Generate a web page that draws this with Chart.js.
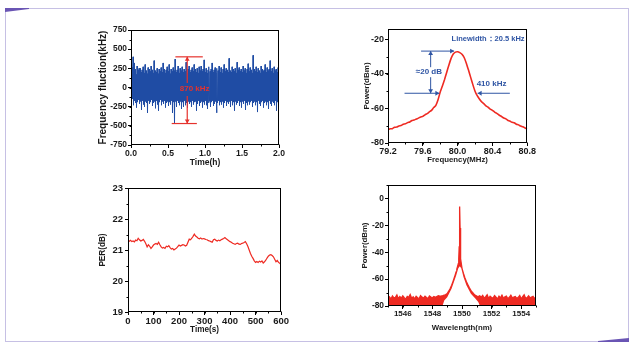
<!DOCTYPE html>
<html>
<head>
<meta charset="utf-8">
<script src="https://cdn.jsdelivr.net/npm/chart.js@4.4.0/dist/chart.umd.min.js"></script>
<style>
  html, body { margin: 0; padding: 0; background: #fff; }
  #page { position: relative; width: 634px; height: 346px; overflow: hidden; background: #fff; }
  #frame { position: absolute; left: 5px; top: 8px; width: 622px; height: 332px; border: 1px solid #c6c0e4; }
  .accent { position: absolute; background: #6a55b4; }
  #accent-tl { left: 5px; top: 8px; width: 24px; height: 4px; clip-path: polygon(0 0, 100% 0, 100% 25%, 0 100%); }
  #accent-br { left: 598px; top: 338px; width: 31px; height: 4px; clip-path: polygon(100% 0, 100% 100%, 0 100%, 0 75%); }
  canvas { position: absolute; }
</style>
</head>
<body>
<div id="page">
  <div id="frame"></div>
  <div class="accent" id="accent-tl"></div>
  <div class="accent" id="accent-br"></div>
  <canvas id="freqNoise"></canvas>
  <canvas id="linewidth"></canvas>
  <canvas id="per"></canvas>
  <canvas id="spectrum"></canvas>
</div>
<script>
const FONT = "'Liberation Sans', Arial, sans-serif";
const TEXT_COLOR = '#1a1a1a';
const RED = '#ee2a22';
const BLUE = '#1f4ca4';
const NOTE_RED = '#e5322d';
const NOTE_BLUE = '#2f55a4';

// frequency fluctuation over 2 h (kHz)
const TL_TIME_END = 2;
const TL_X_TICKS = [0, 0.5, 1, 1.5, 2];
const TL_Y_TICKS = [-750, -500, -250, 0, 250, 500, 750];
const TL_FREQ = [
  210,-180,260,-150,400,-230,320,-170,240,-200,170,-260,280,-190,230,-160,250,-210,250,-180,
  200,-290,230,-170,270,-220,190,-250,300,-180,220,-200,180,-330,260,-170,240,-210,210,-190,
  280,-160,230,-240,190,-200,350,-180,220,-270,200,-170,250,-220,180,-300,240,-190,210,-160,
  260,-230,200,-180,320,-210,240,-170,190,-260,230,-200,270,-180,210,-240,300,-190,180,-220,
  240,-170,210,-330,260,-190,220,-470,370,-180,200,-250,230,-170,280,-200,190,-230,250,-180,
  220,-280,270,-190,200,-250,240,-170,210,-230,330,-200,190,-260,240,-180,280,-210,200,-190,
  230,-250,260,-170,210,-220,300,-190,240,-180,200,-300,250,-210,190,-170,270,-240,220,-200,
  280,-180,210,-260,240,-190,360,-220,200,-170,250,-230,190,-280,230,-200,270,-180,210,-250,
  240,-190,320,-170,200,-240,230,-210,260,-180,190,-330,250,-200,220,-170,280,-230,200,-190,
  260,-220,190,-180,240,-260,300,-200,210,-170,250,-240,230,-190,200,-210,380,-180,220,-250,
  200,-170,270,-230,240,-190,210,-300,250,-180,190,-220,330,-200,230,-170,260,-240,210,-190,
  240,-260,200,-180,280,-210,220,-170,250,-290,190,-200,240,-230,310,-180,210,-220,260,-190,
  230,-170,190,-250,420,-200,240,-180,210,-230,270,-190,200,-320,250,-170,220,-210,190,-240,
  280,-190,240,-170,210,-260,230,-200,300,-180,200,-230,260,-190,220,-280,240,-170,350,-210,
  210,-240,250,-180,190,-200,270,-230,220,-170,240,-300,200,-190,260,-210,230
];

// beat-note spectrum (dBm) around 80 MHz
const TR_FREQ_START = 79.2;
const TR_FREQ_STEP = 0.025;
const TR_X_TICKS = [79.2, 79.6, 80.0, 80.4, 80.8];
const TR_Y_TICKS = [-80, -60, -40, -20];
const TR_POWER = [
  -72.3, -71.8, -71.7, -70.9, -70.8, -70.1, -69.9, -69.1, -68.9, -68.2,
  -67.8, -67.0, -66.7, -66.1, -65.6, -64.9, -64.6, -63.7, -63.0, -62.0,
  -61.1, -59.5, -58.2, -55.0, -50.5, -47.0, -43.2, -39.0, -34.8, -31.0,
  -28.5, -27.4, -27.2, -27.7, -28.6, -30.5, -33.8, -37.8, -42.0, -46.2,
  -50.0, -52.6, -54.5, -56.1, -57.2, -58.5, -59.3, -60.4, -61.1, -62.1,
  -62.8, -63.8, -64.5, -65.4, -65.9, -66.8, -67.3, -68.0, -68.3, -69.1,
  -69.5, -70.2, -70.6, -71.3, -71.8
];

// polarization extinction ratio over 600 s (dB)
const BL_TIME_STEP = 5;
const BL_X_TICKS = [0, 100, 200, 300, 400, 500, 600];
const BL_Y_TICKS = [19, 20, 21, 22, 23];
const BL_PER = [
  21.30, 21.28, 21.31, 21.27, 21.29, 21.26, 21.32, 21.30, 21.38, 21.33,
  21.29, 21.31, 21.34, 21.28, 21.20, 21.10, 21.17, 21.12, 21.05, 21.10,
  21.16, 21.19, 21.21, 21.18, 21.25, 21.17, 21.10, 21.06, 21.08, 21.05,
  21.12, 21.10, 21.14, 21.08, 21.03, 21.05, 21.00, 21.03, 21.06, 21.11,
  21.16, 21.13, 21.15, 21.17, 21.16, 21.13, 21.15, 21.25, 21.35, 21.33,
  21.38, 21.44, 21.51, 21.45, 21.42, 21.38, 21.36, 21.39, 21.35, 21.37,
  21.36, 21.34, 21.33, 21.30, 21.29, 21.27, 21.25, 21.33, 21.35, 21.31,
  21.29, 21.32, 21.30, 21.33, 21.35, 21.37, 21.40, 21.36, 21.33, 21.30,
  21.27, 21.25, 21.22, 21.20, 21.18, 21.21, 21.22, 21.19, 21.18, 21.21,
  21.22, 21.24, 21.27, 21.20, 21.11, 21.00, 20.89, 20.80, 20.73, 20.65,
  20.60, 20.63, 20.60, 20.64, 20.61, 20.65, 20.58, 20.62, 20.67, 20.74,
  20.80, 20.84, 20.85, 20.82, 20.78, 20.70, 20.62, 20.66, 20.60, 20.57,
  20.53
];

// optical spectrum (dBm): noise floor on both sides, skirt and peak in the middle
const BR_X_TICKS = [1546, 1548, 1550, 1552, 1554];
const BR_Y_TICKS = [-80, -60, -40, -20, 0];
const BR_FLOOR_STEP = 0.1;
const BR_FLOOR_LEFT_START = 1545.0;
const BR_FLOOR_LEFT = [
  -74.5, -73.2, -74.8, -72.6, -74.0, -73.5, -71.8, -74.6, -73.0, -74.2,
  -72.4, -73.8, -74.9, -72.9, -73.6, -71.5, -74.3, -73.1, -74.7, -72.8,
  -73.9, -74.4, -72.2, -73.4, -74.1, -72.7, -73.7, -74.5, -72.5, -73.3,
  -73.9, -72.9, -73.6, -73.0, -72.4, -72.6
];
const BR_PEAK_WL = [
  1548.6, 1548.7, 1548.8, 1548.9, 1549.0, 1549.1, 1549.2, 1549.3, 1549.4, 1549.5,
  1549.6, 1549.65, 1549.7, 1549.75, 1549.78, 1549.81, 1549.83, 1549.85, 1549.87, 1549.89,
  1549.92, 1549.96, 1550.0, 1550.1, 1550.2, 1550.3, 1550.4, 1550.5, 1550.6, 1550.7,
  1550.8, 1550.9, 1551.0, 1551.1, 1551.2
];
const BR_PEAK_POWER = [
  -72.5, -72.3, -72.0, -71.5, -70.8, -69.0, -67.0, -64.6, -61.5, -58.3,
  -54.7, -52.5, -50.5, -48.5, -45.0, -36.0, -22.0, -6.0, -22.0, -36.0,
  -45.0, -49.0, -52.0, -55.8, -59.2, -62.0, -64.3, -66.4, -68.3, -69.8,
  -71.0, -72.0, -72.6, -73.0, -72.4
];
const BR_FLOOR_RIGHT_START = 1551.3;
const BR_FLOOR_RIGHT = [
  -73.5, -72.1, -74.2, -73.0, -71.6, -74.5, -72.8, -73.7, -74.1, -72.3,
  -73.4, -74.8, -72.6, -73.9, -71.9, -74.3, -73.2, -72.7, -74.6, -73.5,
  -72.0, -74.0, -73.3, -72.9, -74.4, -73.6, -72.2, -74.7, -73.1, -71.7,
  -74.2, -73.8, -72.5, -74.0, -73.4, -72.8, -74.5, -73.2
];
// lower edge of the trace under the skirt (white area)
const BR_GAP_WL = [1548.65, 1548.8, 1549.0, 1549.3, 1549.6, 1549.75, 1549.85, 1549.95, 1550.1, 1550.3, 1550.6, 1550.9, 1551.1, 1551.25];
const BR_GAP_POWER = [-81, -76, -73.5, -67, -57.5, -52, -50.5, -52, -58.5, -64.5, -70.8, -74.5, -77, -81];

const frameBox = {
  id: 'frameBox',
  afterDraw(chart, args, opts) {
    const { ctx, chartArea: a, scales: { x, y } } = chart;
    const l = Math.round(a.left) + 0.5, r = Math.round(a.right) - 0.5;
    const t = Math.round(a.top) + 0.5, b = Math.round(a.bottom) - 0.5;
    ctx.save();
    ctx.strokeStyle = '#000';
    ctx.lineWidth = 1;
    ctx.strokeRect(l, t, r - l, b - t);
    ctx.beginPath();
    for (let v = x.min; v <= x.max + 1e-9; v += opts.xMinor) {
      const px = Math.round(x.getPixelForValue(v)) + 0.5;
      ctx.moveTo(px, b); ctx.lineTo(px, b + 2);
    }
    for (let v = y.min; v <= y.max + 1e-9; v += opts.yMinor) {
      const py = Math.round(y.getPixelForValue(v)) + 0.5;
      ctx.moveTo(l, py); ctx.lineTo(l - 2, py);
    }
    ctx.stroke();
    ctx.restore();
  }
};
Chart.register(frameBox);

function arrowHead(ctx, x1, y1, x2, y2, size) {
  const ang = Math.atan2(y2 - y1, x2 - x1);
  ctx.beginPath();
  ctx.moveTo(x2, y2);
  ctx.lineTo(x2 - size * Math.cos(ang) + size * 0.6 * Math.sin(ang), y2 - size * Math.sin(ang) - size * 0.6 * Math.cos(ang));
  ctx.lineTo(x2 - size * Math.cos(ang) - size * 0.6 * Math.sin(ang), y2 - size * Math.sin(ang) + size * 0.6 * Math.cos(ang));
  ctx.closePath();
  ctx.fill();
}

function line(ctx, x1, y1, x2, y2) {
  ctx.beginPath();
  ctx.moveTo(x1, y1);
  ctx.lineTo(x2, y2);
  ctx.stroke();
}

function arrow(ctx, x1, y1, x2, y2) {
  line(ctx, x1, y1, x2, y2);
  arrowHead(ctx, x1, y1, x2, y2, 4);
}

function label(ctx, text, px, py, size, color, bg) {
  ctx.font = 'bold ' + size + 'px ' + FONT;
  ctx.textAlign = 'center';
  ctx.textBaseline = 'middle';
  if (bg) {
    const w = ctx.measureText(text).width;
    ctx.fillStyle = bg;
    ctx.fillRect(px - w / 2 - 1, py - size / 2 - 1, w + 2, size + 2);
  }
  ctx.fillStyle = color;
  ctx.fillText(text, px, py);
}

function drawNoiseNotes(chart) {
  const { ctx, scales: { x, y } } = chart;
  ctx.save();
  ctx.strokeStyle = NOTE_RED;
  ctx.fillStyle = NOTE_RED;
  ctx.lineWidth = 1.2;
  line(ctx, x.getPixelForValue(0.60), y.getPixelForValue(400), x.getPixelForValue(0.97), y.getPixelForValue(400));
  line(ctx, x.getPixelForValue(0.55), y.getPixelForValue(-470), x.getPixelForValue(0.89), y.getPixelForValue(-470));
  const ax = x.getPixelForValue(0.76);
  arrow(ctx, ax, y.getPixelForValue(60), ax, y.getPixelForValue(400));
  arrow(ctx, ax, y.getPixelForValue(-110), ax, y.getPixelForValue(-470));
  label(ctx, '870 kHz', x.getPixelForValue(0.86), y.getPixelForValue(-20), 8, NOTE_RED);
  ctx.restore();
}

function drawLinewidthNotes(chart) {
  const { ctx, scales: { x, y } } = chart;
  const top = y.getPixelForValue(-26.8), low = y.getPixelForValue(-51.2);
  ctx.save();
  ctx.strokeStyle = NOTE_BLUE;
  ctx.fillStyle = NOTE_BLUE;
  ctx.lineWidth = 1;
  arrow(ctx, x.getPixelForValue(79.58), top, x.getPixelForValue(79.96), top);
  arrow(ctx, x.getPixelForValue(79.39), low, x.getPixelForValue(79.79), low);
  arrow(ctx, x.getPixelForValue(80.6), low, x.getPixelForValue(80.23), low);
  const vx = x.getPixelForValue(79.69);
  const mid = y.getPixelForValue(-39);
  arrow(ctx, vx, mid, vx, top);
  arrow(ctx, vx, mid, vx, low);
  label(ctx, '≈20 dB', x.getPixelForValue(79.67), mid, 8, NOTE_BLUE, '#fff');
  label(ctx, '410 kHz', x.getPixelForValue(80.39), y.getPixelForValue(-45.5), 8, NOTE_BLUE);
  label(ctx, 'Linewidth：20.5 kHz', x.getPixelForValue(80.35), y.getPixelForValue(-20), 7.5, NOTE_BLUE);
  ctx.restore();
}

function scale(box, plot, horizontal, ax) {
  return {
    type: 'linear',
    min: ax.min,
    max: ax.max,
    afterBuildTicks: s => { s.ticks = ax.ticks.map(v => ({ value: v })); },
    afterFit: s => {
      if (horizontal) s.height = box.bottom - plot.bottom;
      else s.width = plot.left - box.left;
    },
    grid: { display: true, drawOnChartArea: false, drawTicks: true, tickLength: 3, color: '#000', lineWidth: 1 },
    border: { display: false },
    ticks: {
      font: { family: FONT, size: ax.tickSize, weight: 'bold' },
      color: TEXT_COLOR,
      padding: ax.tickPad,
      maxRotation: 0,
      autoSkip: false,
      callback: v => ax.decimals ? Number(v).toFixed(ax.decimals) : String(v)
    },
    title: {
      display: true,
      text: ax.title,
      font: { family: FONT, size: ax.titleSize, weight: 'bold' },
      color: TEXT_COLOR,
      padding: { top: 4, bottom: 4 }
    }
  };
}

function makePanel(id, box, plot, xAxis, yAxis, datasets, notes, minor) {
  const canvas = document.getElementById(id);
  canvas.width = box.right - box.left;
  canvas.height = box.bottom - box.top;
  canvas.style.left = box.left + 'px';
  canvas.style.top = box.top + 'px';
  new Chart(canvas, {
    type: 'line',
    data: { datasets: datasets },
    options: {
      responsive: false,
      animation: false,
      devicePixelRatio: 1,
      parsing: false,
      normalized: true,
      layout: { padding: { top: plot.top - box.top, right: box.right - plot.right, left: 0, bottom: 0 } },
      elements: { point: { radius: 0 } },
      scales: {
        x: scale(box, plot, true, xAxis),
        y: scale(box, plot, false, yAxis)
      },
      plugins: {
        legend: { display: false },
        tooltip: { enabled: false },
        frameBox: minor
      }
    },
    plugins: notes ? [{ id: 'notes', afterDatasetsDraw: notes }] : []
  });
}

function setupNoiseChart() {
  const n = TL_FREQ.length;
  const points = TL_FREQ.map((v, i) => ({ x: i * TL_TIME_END / (n - 1), y: v }));
  makePanel('freqNoise',
    { left: 93, top: 22, right: 285, bottom: 172 },
    { left: 131, top: 30, right: 279, bottom: 145 },
    { min: 0, max: 2, ticks: TL_X_TICKS, title: 'Time(h)', titleSize: 8.5, tickSize: 8.6, tickPad: 0, decimals: 1 },
    { min: -750, max: 750, ticks: TL_Y_TICKS, title: 'Frequency fluction(kHz)', titleSize: 10, tickSize: 8.4, tickPad: 1 },
    [{ data: points, borderColor: BLUE, borderWidth: 1, fill: false, tension: 0 }],
    drawNoiseNotes,
    { xMinor: 0.25, yMinor: 125 });
}

function setupLinewidthChart() {
  const points = TR_POWER.map((v, i) => ({ x: TR_FREQ_START + i * TR_FREQ_STEP, y: v }));
  makePanel('linewidth',
    { left: 358, top: 20, right: 536, bottom: 169 },
    { left: 388, top: 29, right: 529, bottom: 143 },
    { min: 79.2, max: 80.8, ticks: TR_X_TICKS, title: 'Frequency(MHz)', titleSize: 7.8, tickSize: 9, tickPad: 0, decimals: 1 },
    { min: -80, max: -14, ticks: TR_Y_TICKS, title: 'Power(dBm)', titleSize: 8, tickSize: 9, tickPad: 1 },
    [{ data: points, borderColor: RED, borderWidth: 1.6, fill: false, tension: 0.2 }],
    drawLinewidthNotes,
    { xMinor: 0.2, yMinor: 10 });
}

function setupPerChart() {
  const points = BL_PER.map((v, i) => ({ x: i * BL_TIME_STEP, y: v }));
  makePanel('per',
    { left: 94, top: 180, right: 290, bottom: 339 },
    { left: 128, top: 188, right: 282, bottom: 312 },
    { min: 0, max: 600, ticks: BL_X_TICKS, title: 'Time(s)', titleSize: 8.2, tickSize: 9.5, tickPad: 1 },
    { min: 19, max: 23, ticks: BL_Y_TICKS, title: 'PER(dB)', titleSize: 8.2, tickSize: 9.5, tickPad: 2 },
    [{ data: points, borderColor: RED, borderWidth: 1.2, fill: false, tension: 0 }],
    null,
    { xMinor: 50, yMinor: 0.5 });
}

function setupSpectrumChart() {
  const left = BR_FLOOR_LEFT.map((v, i) => ({ x: BR_FLOOR_LEFT_START + i * BR_FLOOR_STEP, y: v }));
  const peak = BR_PEAK_POWER.map((v, i) => ({ x: BR_PEAK_WL[i], y: v }));
  const right = BR_FLOOR_RIGHT.map((v, i) => ({ x: BR_FLOOR_RIGHT_START + i * BR_FLOOR_STEP, y: v }));
  const gap = BR_GAP_POWER.map((v, i) => ({ x: BR_GAP_WL[i], y: v }));
  makePanel('spectrum',
    { left: 356, top: 177, right: 544, bottom: 337 },
    { left: 388, top: 185, right: 536, bottom: 306 },
    { min: 1545, max: 1555, ticks: BR_X_TICKS, title: 'Wavelength(nm)', titleSize: 7.8, tickSize: 8, tickPad: 0 },
    { min: -80, max: 10, ticks: BR_Y_TICKS, title: 'Power(dBm)', titleSize: 7.8, tickSize: 8.4, tickPad: 1 },
    [
      { data: gap, borderWidth: 0, borderColor: '#fff', backgroundColor: '#fff', fill: 'start', order: 0 },
      { data: left.concat(peak, right), borderColor: RED, borderWidth: 1.3, backgroundColor: RED, fill: 'start', order: 1 }
    ],
    null,
    { xMinor: 1, yMinor: 10 });
}

setupNoiseChart();
setupLinewidthChart();
setupPerChart();
setupSpectrumChart();
</script>
</body>
</html>
